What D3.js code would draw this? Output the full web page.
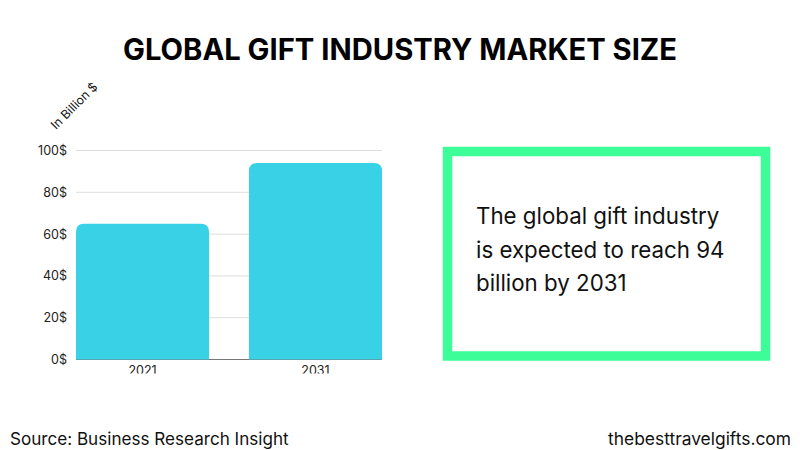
<!DOCTYPE html>
<html lang="en">
<head>
    <meta charset="UTF-8">
    <title>Global Gift Industry Market Size</title>
    <script src="https://d3js.org/d3.v7.min.js"></script>
    <style>
        html, body { margin: 0; padding: 0; background: #fff; }
        svg { display: block; }
        text { fill: #111; }
    </style>
</head>
<body>
<div id="my_dataviz"></div>
<script>

    // values
    var years = ["2021", "2031"];
    var marketSize = [65, 94];
    var yTicks = [0, 20, 40, 60, 80, 100];
    var noteLines = ["The global gift industry", "is expected to reach 94", "billion by 2031"];

    var svg = d3.select("#my_dataviz")
        .append("svg")
        .attr("width", 800)
        .attr("height", 450);

    // title
    svg.append("text")
        .attr("x", 400)
        .attr("y", 60)
        .attr("text-anchor", "middle")
        .style("font-family", "Inter")
        .style("font-weight", 700)
        .style("font-size", "29.2px")
        .style("fill", "#000")
        .text("GLOBAL GIFT INDUSTRY MARKET SIZE");

    // scales
    var x = d3.scaleBand()
        .domain(years)
        .range([76, 382])
        .paddingInner(0.231)
        .paddingOuter(0);

    var y = d3.scaleLinear()
        .domain([0, 100])
        .range([359.5, 150.5]);

    // gridlines
    svg.selectAll(".grid")
        .data(yTicks.filter(function (d) { return d > 0; }))
        .enter()
        .append("line")
        .attr("class", "grid")
        .attr("x1", 76)
        .attr("x2", 382)
        .attr("y1", function (d) { return y(d); })
        .attr("y2", function (d) { return y(d); })
        .attr("stroke", "#dedede")
        .attr("stroke-width", 1);

    // baseline
    svg.append("line")
        .attr("x1", 76)
        .attr("x2", 382)
        .attr("y1", y(0))
        .attr("y2", y(0))
        .attr("stroke", "#777")
        .attr("stroke-width", 1);

    // bars, rounded on top only
    var r = 8;
    svg.selectAll(".bar")
        .data(marketSize)
        .enter()
        .append("path")
        .attr("class", "bar")
        .attr("fill", "#38d1e6")
        .attr("d", function (d, i) {
            var left = x(years[i]), right = left + x.bandwidth(), top = y(d), bottom = y(0);
            return "M" + left + "," + bottom +
                "V" + (top + r) +
                "Q" + left + "," + top + " " + (left + r) + "," + top +
                "H" + (right - r) +
                "Q" + right + "," + top + " " + right + "," + (top + r) +
                "V" + bottom + "Z";
        });

    // y axis labels
    var yAxis = svg.append("g")
        .attr("transform", "translate(67,0)")
        .call(d3.axisLeft(y).tickValues(yTicks).tickSize(0).tickPadding(0)
            .tickFormat(function (d) { return d + "$"; }));
    yAxis.select(".domain").remove();
    yAxis.selectAll("text")
        .style("font-family", "Inter")
        .style("font-size", "12.5px")
        .style("fill", "#222");

    // x axis labels, the reference cuts them off at the bottom
    svg.append("clipPath")
        .attr("id", "xclip")
        .append("rect")
        .attr("x", 0)
        .attr("y", 360)
        .attr("width", 800)
        .attr("height", 13.5);

    var xAxis = svg.append("g")
        .attr("clip-path", "url(#xclip)")
        .append("g")
        .attr("transform", "translate(0," + y(0) + ")")
        .call(d3.axisBottom(x).tickSize(0).tickPadding(7));
    xAxis.select(".domain").remove();
    xAxis.selectAll("text")
        .style("font-family", "Inter")
        .style("font-size", "12.5px")
        .style("fill", "#222");

    // rotated unit label
    svg.append("text")
        .attr("transform", "translate(56,130) rotate(-45)")
        .style("font-family", "Inter")
        .style("font-size", "12.3px")
        .text("In Billion $");

    // note box
    svg.append("rect")
        .attr("x", 447.5)
        .attr("y", 151.5)
        .attr("width", 318)
        .attr("height", 204.5)
        .attr("fill", "#fff")
        .attr("stroke", "#3dfd98")
        .attr("stroke-width", 9.5);

    svg.selectAll(".note")
        .data(noteLines)
        .enter()
        .append("text")
        .attr("class", "note")
        .attr("x", 476)
        .attr("y", function (d, i) { return 224 + i * 33.5; })
        .style("font-family", "Inter")
        .style("font-size", "22.3px")
        .text(function (d) { return d; });

    // footer
    svg.append("text")
        .attr("x", 10)
        .attr("y", 445)
        .style("font-family", "Inter")
        .style("font-size", "17.1px")
        .text("Source: Business Research Insight");

    svg.append("text")
        .attr("x", 791)
        .attr("y", 445)
        .attr("text-anchor", "end")
        .style("font-family", "Inter")
        .style("font-size", "17.4px")
        .text("thebesttravelgifts.com");

</script>
</body>
</html>
